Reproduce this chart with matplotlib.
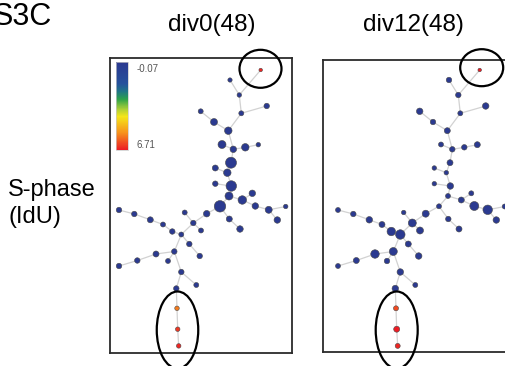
import matplotlib.pyplot as plt
from matplotlib.colors import LinearSegmentedColormap, Normalize
from matplotlib.cm import ScalarMappable
from matplotlib.patches import Ellipse

plt.rcParams['font.family'] = ['Liberation Sans', 'DejaVu Sans']

# SPADE tree layout, shared by both samples (layout units ~ pixels)
NODE_X = [260.7, 230.0, 239.3, 266.7, 241.3, 200.7, 214.0, 228.3, 222.0, 233.3,
          245.3, 258.3, 231.0, 215.3, 227.3, 215.3, 231.3, 229.0, 242.3, 252.3,
          220.0, 255.3, 268.7, 285.7, 277.3, 229.3, 240.0, 206.7, 193.3, 184.7,
          201.0, 181.3, 172.3, 189.3, 199.7, 174.3, 163.0, 150.3, 134.3, 119.0,
          156.0, 137.3, 168.0, 181.3, 119.0, 196.3, 176.3, 177.0, 177.7, 178.7]
NODE_Y = [70.0, 80.0, 95.0, 106.0, 113.3, 111.3, 122.0, 130.7, 144.5, 149.3,
          147.3, 144.7, 162.7, 168.0, 172.7, 183.7, 186.0, 196.0, 200.0, 193.3,
          206.3, 206.0, 209.8, 206.5, 220.0, 219.0, 229.0, 213.7, 223.0, 212.5,
          230.5, 234.5, 231.5, 244.0, 256.0, 251.5, 224.5, 219.8, 214.0, 210.0,
          254.0, 260.5, 261.0, 272.0, 266.0, 285.0, 288.5, 308.3, 329.2, 345.9]
EDGES = [(0, 2), (1, 2), (2, 4), (3, 4), (4, 7), (5, 6), (6, 7), (7, 9),
         (8, 9), (9, 10), (10, 11), (9, 12), (12, 14), (13, 14), (14, 16),
         (15, 16), (16, 17), (17, 18), (18, 19), (18, 21), (21, 22), (22, 23),
         (22, 24), (17, 20), (20, 25), (25, 26), (20, 27), (27, 28), (28, 29),
         (28, 30), (28, 31), (31, 32), (32, 36), (36, 37), (37, 38), (38, 39),
         (31, 33), (33, 34), (31, 35), (35, 40), (40, 41), (41, 44), (35, 42),
         (35, 43), (43, 45), (43, 46), (46, 47), (47, 48), (48, 49)]

# node size (diameter, px) and median IdU per node
DIV0_SIZE = [3.5, 4.3, 4.5, 5.5, 5.0, 5.0, 7.0, 7.5, 8.0, 6.5,
             7.5, 4.5, 11.0, 6.0, 7.5, 5.5, 10.5, 8.0, 8.5, 6.5,
             11.5, 6.5, 7.0, 4.5, 6.5, 6.0, 6.5, 6.5, 5.5, 5.0,
             5.0, 5.0, 5.5, 5.5, 5.5, 5.5, 5.0, 6.0, 5.5, 5.5,
             6.0, 5.5, 5.0, 5.5, 5.5, 5.0, 5.5, 4.5, 4.5, 4.5]
DIV0_IDU = [6.6, 0, 0, 0, 0, 0, 0, 0, 0, 0,
            0, 0, 0, 0, 0, 0, 0, 0, 0, 0,
            0, 0, 0, 0, 0, 0, 0, 0, 0, 0,
            0, 0, 0, 0, 0, 0, 0, 0, 0, 0,
            0, 0, 0, 0, 0, 0, 0, 5.6, 6.4, 6.6]
DIV12_SIZE = [3.5, 5.5, 5.5, 6.5, 5.0, 6.5, 5.5, 6.0, 5.0, 5.5,
              5.5, 6.0, 6.0, 4.5, 4.5, 4.5, 6.5, 5.0, 6.0, 5.0,
              5.0, 9.0, 9.5, 5.0, 6.5, 5.5, 6.0, 7.0, 8.0, 4.5,
              7.0, 9.5, 8.5, 6.0, 6.5, 8.0, 6.0, 6.5, 5.5, 5.0,
              8.5, 6.0, 5.5, 6.5, 5.0, 5.0, 6.5, 5.0, 6.0, 5.0]
DIV12_IDU = [6.7, 0, 0, 0, 0, 0, 0, 0, 0, 0,
             0, 0, 0, 0, 0, 0, 0, 0, 0, 0,
             0, 0, 0, 0, 0, 0, 0, 0, 0, 0,
             0, 0, 0, 0, 0, 0, 0, 0, 0, 0,
             0, 0, 0, 0, 0, 0, 0, 6.2, 6.7, 6.6]
IDU_MIN, IDU_MAX = -0.07, 6.71

W, H = 505, 366
CMAP = LinearSegmentedColormap.from_list('spade', [
    (0.0, '#2b3990'), (0.24, '#26519c'), (0.33, '#1f7488'), (0.42, '#2ca24a'),
    (0.54, '#b3d235'), (0.62, '#f5e61a'), (0.80, '#f7941d'), (1.0, '#ec1c24')])
NORM = Normalize(IDU_MIN, IDU_MAX)


def px_axes(fig, x0, y0, x1, y1):
    return fig.add_axes([x0 / W, 1 - y1 / H, (x1 - x0) / W, (y1 - y0) / H])


def draw_tree(ax, sizes, values, circles):
    for a, b in EDGES:
        ax.plot([NODE_X[a], NODE_X[b]], [NODE_Y[a], NODE_Y[b]],
                color='#d2d2d2', lw=0.9, zorder=1, solid_capstyle='round')
    s = [(d * 0.72) ** 2 for d in sizes]
    ax.scatter(NODE_X, NODE_Y, s=s, c=values, cmap=CMAP, norm=NORM,
               edgecolors='#4a4a4a', linewidths=0.4, zorder=3)
    for cx, cy, w, h in circles:
        ax.add_patch(Ellipse((cx, cy), w, h, fill=False, ec='black', lw=1.6,
                             clip_on=False, zorder=4))
    ax.set_xticks([])
    ax.set_yticks([])
    for sp in ax.spines.values():
        sp.set_linewidth(1.3)
        sp.set_color('#2b2b2b')


fig = plt.figure(figsize=(W / 100, H / 100), dpi=100)

# div0 panel: box 110-292 x 58-352.5 px
ax0 = px_axes(fig, 110, 58.3, 292, 352.5)
ax0.set_xlim(110, 292)
ax0.set_ylim(352.5, 58.3)
draw_tree(ax0, DIV0_SIZE, DIV0_IDU,
          [(260.5, 68.8, 42, 38), (177.5, 330.0, 41.5, 77)])

# div12 panel: box 323-508 x 60-352.3 px, tree drawn 219 px to the right
ax1 = px_axes(fig, 323, 60, 508, 352.3)
ax1.set_xlim(104, 289)
ax1.set_ylim(352.3, 60)
draw_tree(ax1, DIV12_SIZE, DIV12_IDU,
          [(262.7, 67.7, 43, 37), (177.7, 330.0, 42, 77)])
ax1.spines['right'].set_visible(False)

# colour scale inside div0 panel
cax = px_axes(fig, 116, 62.3, 127.7, 150)
cb = fig.colorbar(ScalarMappable(norm=NORM, cmap=CMAP), cax=cax)
cax.invert_yaxis()
cax.set_yticks([])
cb.outline.set_edgecolor('#c8c8c8')
cb.outline.set_linewidth(0.5)
fig.text(136.5 / W, 1 - 69 / H, f'{IDU_MIN:.2f}', fontsize=7, color='#555555',
         ha='left', va='center')
fig.text(136.5 / W, 1 - 144.5 / H, f'{IDU_MAX:.2f}', fontsize=7,
         color='#555555', ha='left', va='center')

# labels (panel letter is cropped at the left edge, as in the source figure)
fig.text(52 / W, 1 - 25 / H, 'S3C', fontsize=22, ha='right', va='baseline')
fig.text(211.5 / W, 1 - 30.7 / H, 'div0(48)', fontsize=17.5, ha='center',
         va='baseline')
fig.text(413.5 / W, 1 - 30.7 / H, 'div12(48)', fontsize=17.5, ha='center',
         va='baseline')
fig.text(8.3 / W, 1 - 196 / H, 'S-phase', fontsize=17, ha='left', va='baseline')
fig.text(8.3 / W, 1 - 223 / H, '(IdU)', fontsize=17, ha='left', va='baseline')

fig.savefig('out.png', dpi=100)
